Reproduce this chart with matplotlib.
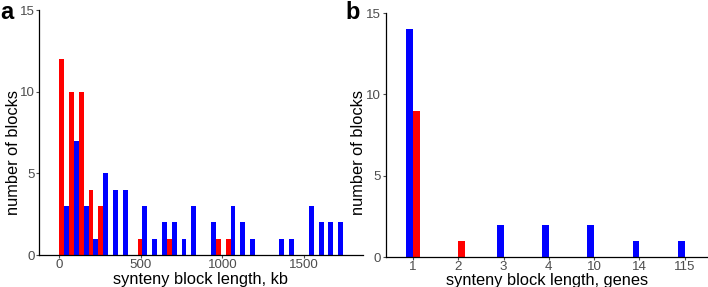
import matplotlib
matplotlib.use("Agg")
import matplotlib.pyplot as plt
import numpy as np

plt.rcParams['font.family'] = ['Liberation Sans', 'DejaVu Sans']

# Panel a: histogram bins (left edge, kb), bin width 60 kb
bin_left_kb = [0, 60, 120, 180, 240, 300, 360, 420, 480, 540, 600, 660, 720, 780,
               840, 900, 960, 1020, 1080, 1140, 1200, 1260, 1320, 1380, 1440, 1500,
               1560, 1620, 1680]
bin_width_kb = 60
blue_counts_a = [3, 7, 3, 1, 5, 4, 4, 0, 3, 1, 2, 2, 1, 3, 0, 2, 0, 3, 2, 1, 0, 0, 1, 1, 0, 3, 2, 2, 2]
red_counts_a = [12, 10, 10, 4, 3, 0, 0, 0, 1, 0, 0, 1, 0, 0, 0, 0, 1, 1, 0, 0, 0, 0, 0, 0, 0, 0, 0, 0, 0]
xticks_a = [0, 500, 1000, 1500]
yticks = [0, 5, 10, 15]

# Panel b: block length in genes
categories_b = ['1', '2', '3', '4', '10', '14', '115']
blue_counts_b = [14, 0, 2, 2, 2, 1, 1]
red_counts_b = [9, 1, 0, 0, 0, 0, 0]

BLUE = '#0000FF'
RED = '#FF0000'
TICKC = '#4D4D4D'

W, H = 708, 287
fig = plt.figure(figsize=(W / 100, H / 100), dpi=100)


def px_axes(left, right, top, bottom):
    return fig.add_axes([left / W, 1 - bottom / H, (right - left) / W, (bottom - top) / H])


def style(ax, xpad):
    for s in ['top', 'right']:
        ax.spines[s].set_visible(False)
    for s in ['left', 'bottom']:
        ax.spines[s].set_color('black')
        ax.spines[s].set_linewidth(0.9)
    ax.tick_params(axis='both', length=2.2, width=0.8, color=TICKC,
                   labelcolor=TICKC, labelsize=9.6, pad=1.2)
    ax.tick_params(axis='x', pad=xpad)


# ---- Panel a ----
axa = px_axes(39.3, 362.7, 10, 255)
left = np.array(bin_left_kb, dtype=float)
half = bin_width_kb / 2
axa.bar(left, red_counts_a, width=half, align='edge', color=RED, linewidth=0)
axa.bar(left + half, blue_counts_a, width=half, align='edge', color=BLUE, linewidth=0)
axa.set_xlim(-122, 1860)
axa.set_ylim(0, 15)
axa.set_xticks(xticks_a)
axa.set_yticks(yticks)
style(axa, 1.0)
axa.set_xlabel('synteny block length, kb', fontsize=11.8)
axa.xaxis.set_label_coords((200.5 - 39.3) / 323.4, (255 - 272) / 245)
axa.set_ylabel('number of blocks', fontsize=11.8)
axa.yaxis.set_label_coords((21.5 - 39.3) / 323.4, 0.42)
fig.text(0, 1 - 12.5 / H, 'a', fontsize=17, fontweight='bold', va='center', ha='left')

# ---- Panel b ----
axb = px_axes(385.7, 712, 13, 257.3)
pos = np.arange(1, len(categories_b) + 1)
bw = 0.15
axb.bar(pos - bw, blue_counts_b, width=bw, align='edge', color=BLUE, linewidth=0)
axb.bar(pos, red_counts_b, width=bw, align='edge', color=RED, linewidth=0)
axb.set_xlim(0.4, len(categories_b) + 0.6)
axb.set_ylim(0, 15)
axb.set_xticks(pos)
axb.set_xticklabels(categories_b)
axb.set_yticks(yticks)
style(axb, 0.3)
axb.set_xlabel('synteny block length, genes', fontsize=11.8)
axb.xaxis.set_label_coords((546.7 - 385.7) / 326.3, (257.3 - 273.2) / 244.3)
axb.set_ylabel('number of blocks', fontsize=11.8)
axb.yaxis.set_label_coords((366 - 385.7) / 326.3, 0.43)
fig.text(345 / W, 1 - 12.5 / H, 'b', fontsize=17, fontweight='bold', va='center', ha='left')

fig.savefig('out.png', dpi=100)
